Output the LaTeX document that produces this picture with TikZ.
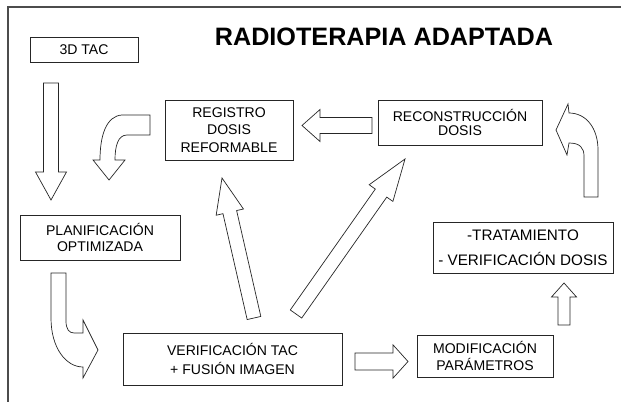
\documentclass[tikz,border=0pt]{standalone}
\usepackage{fontspec}
\setmainfont{Liberation Sans}
\usetikzlibrary{calc}

\tikzset{
  box/.style={draw=black!85,line width=0.6pt,align=center,inner sep=0pt},
  blockarr/.style={draw=black!85,line width=0.6pt,fill=white,line join=miter},
  frame/.style={draw=black!70,line width=1pt},
}
% block arrow: #1 half shaft, #2 half head, #3 head length, #4 tail, #5 tip
\newcommand{\blockarrow}[5]{%
  \draw[blockarr] ($(#4)!#1!90:(#5)$) -- ($(#5)!#3!(#4)!#1!-90:(#4)$)
    -- ($(#5)!#3!(#4)!#2!-90:(#4)$) -- (#5) -- ($(#5)!#3!(#4)!#2!90:(#4)$)
    -- ($(#5)!#3!(#4)!#1!90:(#4)$) -- ($(#4)!#1!-90:(#5)$) -- cycle;}

\begin{document}
\begin{tikzpicture}[x=0.03cm,y=-0.03cm]
  % 1 unit = 1 px of the 621x402 sheet, y pointing down
  \useasboundingbox (0,0) rectangle (621,402);
  \draw[frame] (8,402) -- (8,7) -- (621,7);

  \node (title) at (384,37) {\fontsize{21.5}{24}\selectfont\bfseries RADIOTERAPIA ADAPTADA};

  % boxes
  \node[box,minimum width=3.24cm,minimum height=0.75cm,font=\fontsize{12}{14}\selectfont] (tac) at (84,49.5) {3D TAC};
  \node[box,minimum width=3.84cm,minimum height=1.8cm,font=\fontsize{12}{15}\selectfont] (registro) at (229,130) {REGISTRO\\DOSIS\\REFORMABLE};
  \node[box,minimum width=4.92cm,minimum height=1.35cm,font=\fontsize{12}{12.5}\selectfont] (recons) at (460,122.5) {RECONSTRUCCIÓN\\DOSIS};
  \node[box,minimum width=4.8cm,minimum height=1.35cm,font=\fontsize{12}{13}\selectfont] (planif) at (100,237.5) {PLANIFICACIÓN\\OPTIMIZADA};
  \node[box,minimum width=6.57cm,minimum height=1.56cm,font=\fontsize{12}{15.5}\selectfont] (verif) at (232.5,359) {VERIFICACIÓN TAC\\+ FUSIÓN IMAGEN};
  \node[box,minimum width=4.08cm,minimum height=1.26cm,font=\fontsize{12}{14.5}\selectfont] (modif) at (485,356) {MODIFICACIÓN\\PARÁMETROS};
  \node[box,minimum width=5.4cm,minimum height=1.53cm,font=\fontsize{13}{21}\selectfont] (tratam) at (523,247.5) {-TRATAMIENTO\\- VERIFICACIÓN DOSIS};

  % ends of the straight block arrows
  \foreach \n/\x/\y in {tacS/51/83, planN/51/200, recW/372/125.5, regE/302/125.5,
      verN/254/318, regS/222/178, verNE/296/314, recS/405/159,
      verE/355/361.5, modW/408/361.5, modN/564/325, traS/564/283}
    \coordinate (\n) at (\x,\y);

  \blockarrow{0.225cm}{0.465cm}{0.84cm}{tacS}{planN}
  \blockarrow{0.24cm}{0.48cm}{0.54cm}{recW}{regE}
  \blockarrow{0.21cm}{0.42cm}{1.05cm}{verN}{regS}
  \blockarrow{0.21cm}{0.435cm}{1.25cm}{verNE}{recS}
  \blockarrow{0.255cm}{0.5cm}{0.45cm}{verE}{modW}
  \blockarrow{0.18cm}{0.375cm}{0.42cm}{modN}{traS}

  % curved arrows
  \draw[blockarr] (150,115) -- (122,115) .. controls (106,116) and (100,136) .. (100,160)
    -- (93,160) -- (109,180) -- (125,160) -- (115,160)
    .. controls (115,146) and (118,135) .. (127,135) -- (150,135) -- cycle;
  \draw[blockarr] (51,273) -- (51,318) .. controls (51,348) and (66,367) .. (83,367)
    -- (83,378) -- (98,350) -- (83,320) -- (83,333) -- (74,333)
    .. controls (69,333) and (66,329) .. (66,321) -- (66,273) -- cycle;
  \draw[blockarr] (598,197) -- (598,150) .. controls (598,128) and (586,113) .. (569,113)
    -- (568,104) -- (556,130) -- (567,155) -- (569,143)
    .. controls (580,143) and (584,148) .. (584,156) -- (584,197) -- cycle;
\end{tikzpicture}
\end{document}
